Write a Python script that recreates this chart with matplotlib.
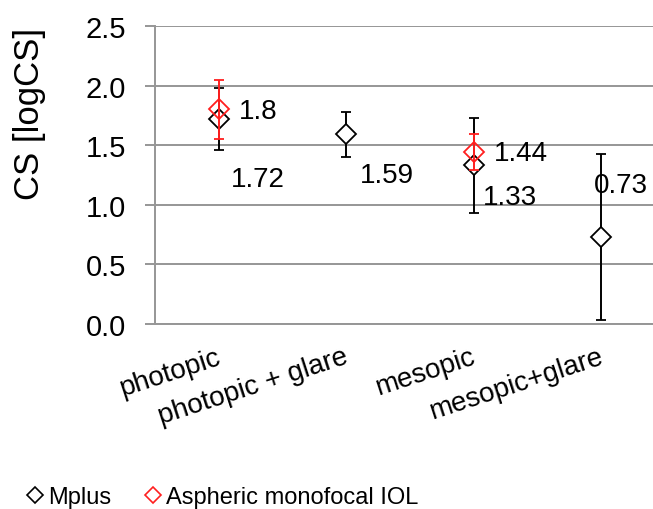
import matplotlib
matplotlib.use("Agg")
import matplotlib.pyplot as plt
from matplotlib.lines import Line2D
import matplotlib.transforms as mtransforms

plt.rcParams['font.family'] = ['Liberation Sans', 'DejaVu Sans']

categories = ["photopic", "photopic + glare", "mesopic", "mesopic+glare"]
mplus = [1.72, 1.59, 1.33, 0.73]
mplus_err = [0.26, 0.19, 0.40, 0.70]
aspheric_idx = [0, 2]
aspheric = [1.80, 1.44]
aspheric_err = [0.25, 0.15]
yticks = [0.0, 0.5, 1.0, 1.5, 2.0, 2.5]
ytick_labels = ["0.0", "0.5", "1.0", "1.5", "2.0", "2.5"]

# label offsets in pixels (dx, dy) relative to marker
mplus_label_off = [(12, -60), (14, -41), (9, -32), (-7, 52)]
asph_label_off = [(20, -2), (20, -1)]

W, H = 653, 510
fig = plt.figure(figsize=(W / 100, H / 100), dpi=100)
ax = fig.add_axes([155 / W, (H - 325) / H, 510 / W, 298 / H])

grid_c = '#969696'
x = list(range(len(categories)))

ax.errorbar(x, mplus, yerr=mplus_err, fmt='D', mfc='white', mec='black', mew=1.3,
            ms=10, ecolor='black', elinewidth=1.4, capsize=3.5, capthick=1.4,
            zorder=3)
ax.errorbar(aspheric_idx, aspheric, yerr=aspheric_err, fmt='D', mfc='none',
            mec='#ff1f1f', mew=1.3, ms=10, ecolor='#ff1f1f', elinewidth=1.4,
            capsize=3.5, capthick=1.4, zorder=4)

px = 72 / 100
for i, (v, off) in enumerate(zip(mplus, mplus_label_off)):
    ax.annotate(f"{v:g}", (x[i], v), xytext=(off[0] * px, off[1] * px),
                textcoords='offset points', ha='left', va='center',
                fontsize=20, zorder=5)
for i, v, off in zip(aspheric_idx, aspheric, asph_label_off):
    ax.annotate(f"{v:g}", (i, v), xytext=(off[0] * px, off[1] * px),
                textcoords='offset points', ha='left', va='center',
                fontsize=20, zorder=5)

ax.set_xlim(-0.5, 3.5)
ax.set_ylim(0, 2.5)
ax.set_yticks(yticks)
ax.set_yticklabels(ytick_labels, fontsize=21)
ax.set_xticks(x)
ax.set_xticklabels(categories, fontsize=20, rotation=18, ha='right',
                   rotation_mode='anchor', va='top')
ax.tick_params(axis='x', length=0, pad=14)
ax.tick_params(axis='y', length=7.0, width=1.4, color=grid_c, pad=14)
ax.yaxis.grid(True, color=grid_c, linewidth=1.4)
ax.set_axisbelow(True)
for s in ['top', 'right']:
    ax.spines[s].set_visible(False)
for s in ['left', 'bottom']:
    ax.spines[s].set_color(grid_c)
    ax.spines[s].set_linewidth(1.4)

# shift x tick labels left a bit
offset = mtransforms.ScaledTranslation(-3 / 100, 0, fig.dpi_scale_trans)
for lab in ax.get_xticklabels():
    lab.set_transform(lab.get_transform() + offset)

fig.text(30 / W, 1 - 114 / H, "CS [logCS]", rotation=90, ha='center',
         va='center', fontsize=25)

handles = [Line2D([], [], marker='D', ls='none', mfc='white', mec='black',
                  mew=1.2, ms=8),
           Line2D([], [], marker='D', ls='none', mfc='none', mec='#ff1f1f',
                  mew=1.2, ms=8)]
fig.legend(handles, ["Mplus", "Aspheric monofocal IOL"], loc='center left',
           bbox_to_anchor=(28 / W, 12 / H), ncol=2, frameon=False,
           fontsize=17, handlelength=0.6, handletextpad=0.25,
           columnspacing=1.45, borderpad=0, borderaxespad=0)

fig.savefig("out.png", dpi=100)
